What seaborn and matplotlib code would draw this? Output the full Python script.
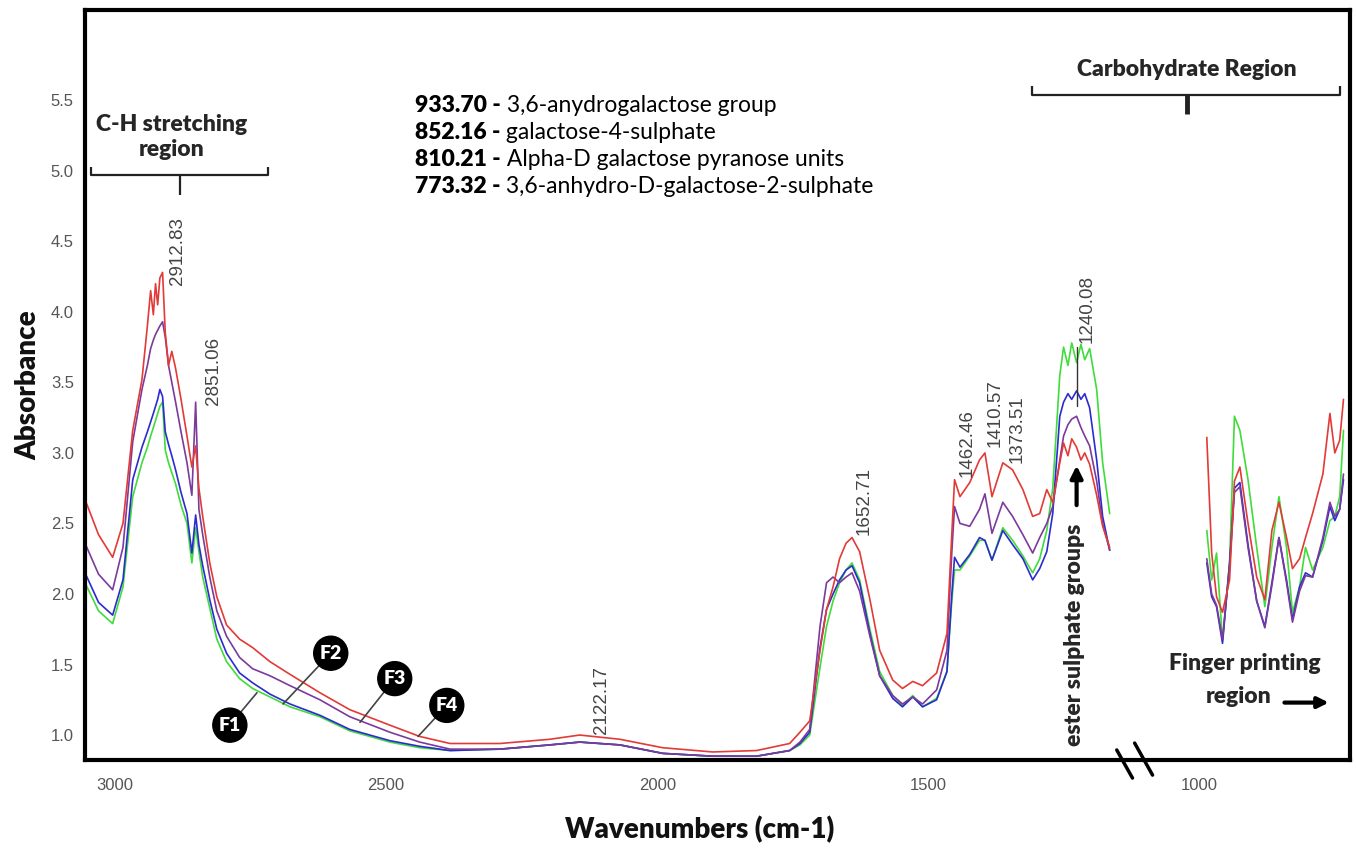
import matplotlib
matplotlib.use("Agg")
import matplotlib.pyplot as plt
import pandas as pd
import seaborn as sns

# FTIR spectra of fractions F1-F4
wn_main = [3055, 3030, 3004, 2985, 2967, 2950, 2940, 2934, 2929, 2925, 2921, 2917, 2912,
           2907, 2901, 2895, 2888, 2878, 2867, 2858, 2851, 2845, 2838, 2825, 2812, 2794,
           2770, 2746, 2714, 2677, 2622, 2567, 2493, 2438, 2382, 2290, 2198, 2143, 2069,
           1990, 1898, 1817, 1756, 1737, 1719, 1700, 1688, 1676, 1664, 1652, 1641, 1627,
           1608, 1590, 1566, 1548, 1529, 1511, 1485, 1466, 1457, 1452, 1442, 1424, 1406,
           1396, 1383, 1363, 1345, 1326, 1308, 1295, 1282, 1271, 1258, 1251, 1243, 1236,
           1227, 1219, 1212, 1203, 1190, 1179, 1166]
f4_main = [2.67, 2.42, 2.26, 2.50, 3.16, 3.52, 3.90, 4.15, 3.98, 4.20, 4.05, 4.24, 4.28,
           3.85, 3.62, 3.72, 3.60, 3.38, 3.12, 2.90, 3.05, 2.75, 2.55, 2.22, 1.98, 1.78,
           1.68, 1.62, 1.52, 1.43, 1.30, 1.18, 1.07, 0.99, 0.94, 0.94, 0.97, 1.00, 0.97,
           0.91, 0.88, 0.89, 0.94, 1.02, 1.10, 1.60, 1.89, 2.05, 2.25, 2.36, 2.40, 2.30,
           1.96, 1.60, 1.39, 1.33, 1.38, 1.35, 1.44, 1.72, 2.43, 2.81, 2.69, 2.79, 2.95,
           3.00, 2.69, 2.93, 2.88, 2.74, 2.55, 2.57, 2.74, 2.65, 2.93, 3.07, 2.98, 3.10,
           3.04, 2.95, 3.00, 2.92, 2.70, 2.48, 2.33]
f3_main = [2.36, 2.14, 2.03, 2.33, 3.08, 3.45, 3.62, 3.74, 3.80, 3.84, 3.87, 3.90, 3.93,
           3.82, 3.62, 3.50, 3.36, 3.15, 2.93, 2.70, 3.36, 2.60, 2.42, 2.12, 1.88, 1.70,
           1.55, 1.47, 1.42, 1.35, 1.25, 1.13, 1.02, 0.95, 0.90, 0.90, 0.93, 0.95, 0.93,
           0.87, 0.85, 0.85, 0.89, 0.95, 1.04, 1.77, 2.08, 2.12, 2.08, 2.12, 2.15, 2.02,
           1.70, 1.42, 1.28, 1.22, 1.27, 1.22, 1.32, 1.60, 2.30, 2.62, 2.50, 2.48, 2.60,
           2.71, 2.43, 2.65, 2.55, 2.42, 2.29, 2.40, 2.50, 2.62, 2.95, 3.12, 3.20, 3.24,
           3.26, 3.18, 3.12, 3.05, 2.80, 2.50, 2.31]
f2_main = [2.15, 1.94, 1.85, 2.10, 2.81, 3.04, 3.15, 3.22, 3.28, 3.33, 3.38, 3.45, 3.40,
           3.15, 3.06, 2.98, 2.88, 2.72, 2.57, 2.29, 2.56, 2.35, 2.20, 1.96, 1.75, 1.58,
           1.44, 1.37, 1.29, 1.22, 1.14, 1.04, 0.96, 0.92, 0.89, 0.90, 0.93, 0.95, 0.93,
           0.87, 0.85, 0.85, 0.89, 0.94, 1.02, 1.62, 1.89, 2.00, 2.10, 2.17, 2.20, 2.08,
           1.72, 1.42, 1.26, 1.20, 1.27, 1.20, 1.25, 1.45, 2.00, 2.26, 2.19, 2.28, 2.40,
           2.38, 2.24, 2.45, 2.35, 2.25, 2.10, 2.18, 2.30, 2.57, 3.26, 3.36, 3.42, 3.38,
           3.44, 3.38, 3.42, 3.32, 2.95, 2.55, 2.31]
f1_main = [2.08, 1.88, 1.79, 2.05, 2.69, 2.93, 3.04, 3.12, 3.18, 3.23, 3.28, 3.33, 3.36,
           3.02, 2.93, 2.86, 2.78, 2.63, 2.50, 2.22, 2.47, 2.30, 2.12, 1.90, 1.68, 1.52,
           1.40, 1.33, 1.27, 1.20, 1.13, 1.03, 0.95, 0.91, 0.89, 0.90, 0.93, 0.95, 0.93,
           0.87, 0.85, 0.85, 0.89, 0.93, 1.00, 1.48, 1.77, 1.95, 2.08, 2.17, 2.22, 2.10,
           1.75, 1.45, 1.28, 1.21, 1.28, 1.20, 1.26, 1.45, 1.95, 2.17, 2.17, 2.27, 2.38,
           2.38, 2.24, 2.47, 2.38, 2.27, 2.15, 2.25, 2.45, 2.75, 3.55, 3.75, 3.62, 3.78,
           3.64, 3.77, 3.66, 3.74, 3.45, 2.93, 2.57]

# fingerprint segment (after the axis break)
wn_fp = [987, 978, 969, 958, 945, 936, 926, 911, 895, 880, 867, 854, 840, 829, 816,
         805, 792, 773, 760, 751, 742, 735]
f4_fp = [3.11, 2.29, 1.98, 1.87, 2.10, 2.80, 2.90, 2.50, 2.12, 1.96, 2.45, 2.65, 2.40,
         2.18, 2.25, 2.40, 2.57, 2.85, 3.28, 3.00, 3.09, 3.38]
f3_fp = [2.25, 2.00, 1.92, 1.68, 2.20, 2.72, 2.76, 2.33, 1.95, 1.76, 2.06, 2.40, 2.08,
         1.80, 2.02, 2.13, 2.12, 2.40, 2.65, 2.55, 2.60, 2.85]
f2_fp = [2.22, 1.98, 1.91, 1.65, 2.22, 2.75, 2.79, 2.35, 1.95, 1.77, 2.08, 2.40, 2.10,
         1.82, 2.05, 2.15, 2.12, 2.38, 2.62, 2.52, 2.60, 2.81]
f1_fp = [2.45, 2.10, 2.29, 1.67, 2.22, 3.26, 3.16, 2.81, 2.33, 1.91, 2.33, 2.69, 2.33,
         1.87, 2.05, 2.33, 2.17, 2.33, 2.52, 2.55, 2.69, 3.16]

samples = ["F1", "F2", "F3", "F4"]
colors = {"F1": "#3fdc3a", "F2": "#2b2bd0", "F3": "#7b3a9c", "F4": "#e23a36"}

peak_labels = ["2912.83", "2851.06", "2122.17", "1652.71", "1462.46", "1410.57", "1373.51", "1240.08"]
peak_x = [2884, 2819, 2102, 1619, 1428, 1378, 1337, 1208]
peak_y = [4.19, 3.34, 1.01, 2.42, 2.83, 3.04, 2.93, 3.78]

band_values = ["933.70", "852.16", "810.21", "773.32"]
band_names = ["3,6-anydrogalactose group", "galactose-4-sulphate",
              "Alpha-D galactose pyranose units", "3,6-anhydro-D-galactose-2-sulphate"]

main = {"F1": f1_main, "F2": f2_main, "F3": f3_main, "F4": f4_main}
fp = {"F1": f1_fp, "F2": f2_fp, "F3": f3_fp, "F4": f4_fp}
frames = []
for s in samples:
    frames.append(pd.DataFrame({"wn": wn_main, "abs": main[s], "sample": s, "seg": "main"}))
    frames.append(pd.DataFrame({"wn": wn_fp, "abs": fp[s], "sample": s, "seg": "fp"}))
df = pd.concat(frames, ignore_index=True)

sns.set_style("white")
plt.rcParams["font.family"] = ["Liberation Sans", "DejaVu Sans"]
ann_font = ["Lato", "DejaVu Sans"]

fig = plt.figure(figsize=(13.56, 8.5), dpi=100)
ax = fig.add_axes([85 / 1356, 90 / 850, 1265 / 1356, 750 / 850])

sns.lineplot(data=df, x="wn", y="abs", hue="sample", units="seg", estimator=None,
             sort=False, palette=colors, hue_order=samples, linewidth=1.2, ax=ax, legend=False)

ax.set_xlim(3055, 723)
ax.set_ylim(0.823, 6.14)
ax.set_xticks([3000, 2500, 2000, 1500, 1000])
ax.set_yticks([1.0, 1.5, 2.0, 2.5, 3.0, 3.5, 4.0, 4.5, 5.0, 5.5])
ax.set_xticks(range(2900, 700, -100), minor=True)
ax.tick_params(axis="both", which="major", direction="out", length=4, width=1, color="#888888",
               labelcolor="#555555", labelsize=12, pad=4)
ax.tick_params(axis="x", which="minor", direction="out", length=3, width=0.8, color="#cccccc")
ax.tick_params(axis="x", which="major", pad=9)
for sp in ax.spines.values():
    sp.set_visible(True)
    sp.set_color("black")
    sp.set_linewidth(3)
ax.set_xlabel("")
ax.set_ylabel("")

fig.text(700 / 1356, 1 - 830 / 850, "Wavenumbers (cm-1)", ha="center", va="center",
         fontsize=20, fontweight="heavy", family=ann_font, color="#111111")
fig.text(28 / 1356, 1 - 385 / 850, "Absorbance", ha="center", va="center", rotation=90,
         fontsize=20, fontweight="heavy", family=ann_font, color="#111111")

# peak labels
for lab, x, y in zip(peak_labels, peak_x, peak_y):
    ax.text(x, y, lab, rotation=90, ha="center", va="bottom", fontsize=13.5, color="#444444")

# band assignments
for i, (v, n) in enumerate(zip(band_values, band_names)):
    y = 5.46 - i * 0.19
    t = ax.text(2447, y, v + " -", fontsize=16.5, fontweight="heavy", family=ann_font,
                va="center", ha="left", color="black")
    ax.annotate(" " + n, xy=(1, 0), xycoords=t, va="bottom", ha="left", fontsize=16.5,
                family=ann_font, color="black")

# region brackets
bk = dict(color="#222222", lw=1.6, solid_capstyle="butt")
ax.plot([3044, 3044, 2718, 2718], [5.03, 4.97, 4.97, 5.03], **bk)
ax.plot([2880, 2880], [4.97, 4.83], **bk)
ax.text(2895, 5.24, "C-H stretching\nregion", ha="center", va="center", fontsize=16.5,
        fontweight="heavy", family=ann_font, linespacing=1.2)
ax.plot([1310, 1310, 742, 742], [5.60, 5.54, 5.54, 5.60], **bk)
ax.plot([1024, 1024], [5.54, 5.40], color="#222222", lw=3.5, solid_capstyle="butt")
ax.text(1024, 5.72, "Carbohydrate Region", ha="center", va="center", fontsize=16.5,
        fontweight="heavy", family=ann_font)

# ester sulphate groups
ax.plot([1227, 1227], [3.75, 3.33], color="#333333", lw=1)
ax.annotate("", xy=(1227, 2.93), xytext=(1227, 2.61),
            arrowprops=dict(arrowstyle="-|>", color="black", lw=3, mutation_scale=18))
ax.text(1230, 1.71, "ester sulphate groups", rotation=90, ha="center", va="center",
        fontsize=16.5, fontweight="heavy", family=ann_font)

# fingerprint region
ax.text(917, 1.51, "Finger printing", ha="center", va="center", fontsize=16.5,
        fontweight="heavy", family=ann_font)
ax.text(928, 1.27, "region", ha="center", va="center", fontsize=16.5,
        fontweight="heavy", family=ann_font)
ax.annotate("", xy=(757, 1.23), xytext=(849, 1.23),
            arrowprops=dict(arrowstyle="-|>", color="black", lw=3, mutation_scale=16))

# axis break marks
for xs, ys in [([1153, 1124], [0.894, 0.695]), ([1120, 1087], [0.943, 0.716])]:
    ax.plot(xs, ys, color="black", lw=2.5, clip_on=False, zorder=5)

# fraction labels
flabels = [("F1", (2738, 1.30), (2788, 1.07)), ("F2", (2690, 1.22), (2602, 1.58)),
           ("F3", (2548, 1.09), (2484, 1.40)), ("F4", (2441, 0.99), (2388, 1.21))]
for lab, xy, xyt in flabels:
    ax.annotate(lab, xy=xy, xytext=xyt, ha="center", va="center", fontsize=14,
                fontweight="heavy", color="white", family=ann_font,
                bbox=dict(boxstyle="circle,pad=0.3", fc="black", ec="black"),
                arrowprops=dict(arrowstyle="-", color="#444444", lw=1.2, shrinkA=0, shrinkB=0))

fig.savefig("out.png", dpi=100)
